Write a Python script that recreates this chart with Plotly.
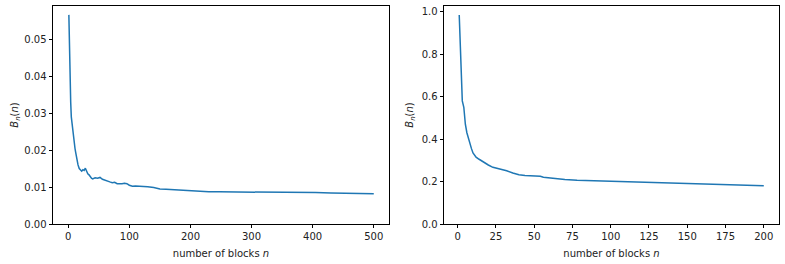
import plotly.graph_objects as go
from plotly.subplots import make_subplots

# Left panel data
n_left = [1, 2, 3, 4, 5, 6, 7, 8, 9, 10, 11, 12, 13, 14, 16, 18, 20, 22, 24, 26, 28, 30,
          32, 34, 36, 38, 40, 44, 48, 52, 56, 60, 64, 68, 72, 76, 80, 84, 88, 92, 96, 100,
          105, 110, 116, 122, 130, 140, 150, 160, 170, 182, 195, 205, 215, 230, 247, 260,
          280, 296, 313, 330, 345, 362, 380, 405, 430, 460, 480, 500]
b_left = [0.0566, 0.046, 0.039, 0.033, 0.029, 0.0275, 0.026, 0.025, 0.023, 0.0205, 0.0205,
          0.0195, 0.0185, 0.0175, 0.016, 0.015, 0.0146, 0.0143, 0.0147, 0.0145, 0.0151,
          0.0142, 0.0136, 0.0133, 0.0128, 0.0124, 0.0122, 0.0125, 0.0124, 0.0126, 0.0121,
          0.0118, 0.0115, 0.0114, 0.0112, 0.0113, 0.0109, 0.0108, 0.0109, 0.0110, 0.0109,
          0.0105, 0.0102, 0.0103, 0.0103, 0.0101, 0.0101, 0.0099, 0.0095, 0.0094, 0.0093,
          0.0092, 0.0092, 0.0091, 0.0088, 0.0087, 0.0087, 0.0087, 0.0086, 0.0085, 0.0085,
          0.0085, 0.0086, 0.0087, 0.0085, 0.0085, 0.0084, 0.0083, 0.0083, 0.0082]

# Right panel data
n_right = [1, 2, 3, 4, 5, 6, 7, 8, 9, 10, 12, 14, 16, 18, 20, 23, 26, 28, 32, 36, 40, 44,
           48, 52, 54, 56, 60, 64, 70, 78, 88, 96, 106, 115, 125, 135, 145, 155, 165, 175,
           184, 192, 200]
b_right = [0.985, 0.78, 0.58, 0.55, 0.47, 0.43, 0.40, 0.38, 0.355, 0.335, 0.315, 0.305,
           0.295, 0.285, 0.278, 0.267, 0.262, 0.258, 0.251, 0.240, 0.232, 0.228, 0.226,
           0.226, 0.225, 0.220, 0.217, 0.212, 0.210, 0.206, 0.204, 0.201, 0.198, 0.197,
           0.195, 0.192, 0.190, 0.188, 0.185, 0.183, 0.182, 0.181, 0.180]

x_title = "number of blocks <i>n</i>"
y_title = "<i>B<sub>n</sub></i>(<i>n</i>)"

W, H = 785, 264
ml, mr, mt, mb = 53, 6, 6, 40
pw = W - ml - mr

fig = make_subplots(rows=1, cols=2)
fig.add_trace(go.Scatter(x=n_left, y=b_left, mode="lines",
                         line=dict(color="#1f77b4", width=1.5), showlegend=False), 1, 1)
fig.add_trace(go.Scatter(x=n_right, y=b_right, mode="lines",
                         line=dict(color="#1f77b4", width=1.5), showlegend=False), 1, 2)

axis_common = dict(showline=True, linecolor="black", linewidth=0.8, mirror=True,
                   ticks="outside", ticklen=3.5, tickwidth=0.8, tickcolor="black",
                   showgrid=False, zeroline=False, automargin=False,
                   tickfont=dict(family="DejaVu Sans", size=10, color="#222"),
                   title_font=dict(family="DejaVu Sans", size=10, color="#222"))

fig.update_xaxes(axis_common)
fig.update_yaxes(axis_common)

fig.update_xaxes(domain=[0, (389 - ml) / pw], range=[-24.95, 524.95], dtick=100, tick0=0,
                 title_text=x_title, title_standoff=8, row=1, col=1)
fig.update_xaxes(domain=[(444 - ml) / pw, 1], range=[-8.95, 209.95], dtick=25, tick0=0,
                 title_text=x_title, title_standoff=8, row=1, col=2)
fig.update_yaxes(range=[0, 0.059], dtick=0.01, tickformat=".2f",
                 title_text=y_title, title_standoff=3, row=1, col=1)
fig.update_yaxes(range=[0, 1.027], dtick=0.2, tickformat=".1f",
                 title_text=y_title, title_standoff=6, row=1, col=2)

fig.update_layout(width=W, height=H, margin=dict(l=ml, r=mr, t=mt, b=mb),
                  plot_bgcolor="white", paper_bgcolor="white",
                  font=dict(family="DejaVu Sans", size=10, color="#222"))

fig.write_html("out.html", config={"displayModeBar": False},
               post_script="document.body.style.margin='0';")
